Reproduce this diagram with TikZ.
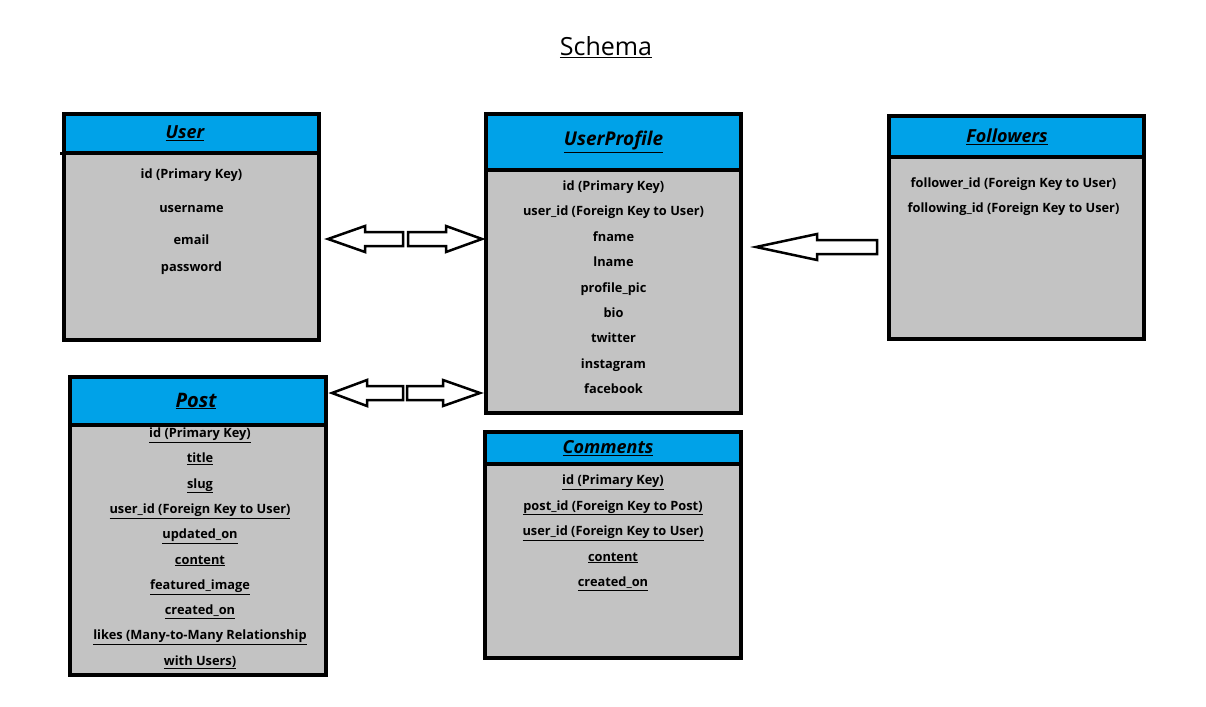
\documentclass[tikz,border=0pt]{standalone}
\usepackage{fontspec}
\setmainfont{Open Sans}
\usetikzlibrary{calc}
\definecolor{hdrblue}{RGB}{0,162,232}
\definecolor{bodygray}{RGB}{195,195,195}
\tikzset{
  tbl/.style={draw, line width=4pt, fill=bodygray, outer sep=0pt, inner sep=0pt},
  hdr/.style={draw, line width=4pt, fill=hdrblue, outer sep=0pt, inner sep=0pt, anchor=north,
    font=\bfseries\itshape\fontsize{18}{21}\selectfont},
  row/.style={font=\bfseries\fontsize{12.8}{15}\selectfont, inner sep=0pt, text height=9pt, text depth=2pt},
  arrowline/.style={draw, line width=2.5pt, line join=miter, fill=white},
}
%% hollow block arrow: tail, tip, head length
\newcommand\blockarrow[3]{%
  \coordinate (hb) at ($(#2)!#3!(#1)$);
  \draw[arrowline] ($(#1)!7pt!90:(#2)$) -- ($(hb)!7pt!90:(#2)$) -- ($(hb)!13pt!90:(#2)$) -- (#2)
    -- ($(hb)!13pt!-90:(#2)$) -- ($(hb)!7pt!-90:(#2)$) -- ($(#1)!7pt!-90:(#2)$) -- cycle;
}
\begin{document}
\begin{tikzpicture}[x=1pt, y=-1pt]
  \useasboundingbox (0,0) rectangle (1206,706);

  \node (title) at (606,47) {\fontsize{25}{30}\selectfont\underline{Schema}};

  %% tables
  \node (user) [tbl, minimum width=255pt, minimum height=226pt] at (191.5,227) {};
  \node (userh) [hdr, minimum width=255pt, minimum height=39pt] at (user.north) {\hspace*{-13pt}\underline{User}};
  \draw[line width=3pt] (userh.south west) -- +(-4,0);

  \node (prof) [tbl, minimum width=255pt, minimum height=299pt] at (613.5,263.5) {};
  \node (profh) [hdr, minimum width=255pt, minimum height=56pt, font=\bfseries\itshape\fontsize{19}{22}\selectfont]
    at (prof.north) {\underline{UserProfile}};

  \node (foll) [tbl, minimum width=255pt, minimum height=223pt] at (1016.5,227.5) {};
  \node (follh) [hdr, minimum width=255pt, minimum height=41pt] at (foll.north) {\hspace*{-19pt}\underline{Followers}};

  \node (post) [tbl, minimum width=256pt, minimum height=298pt] at (198,526) {};
  \node (posth) [hdr, minimum width=256pt, minimum height=48pt, font=\bfseries\itshape\fontsize{20}{23}\selectfont]
    at (post.north) {\hspace*{-4pt}\underline{Post}};

  \node (comm) [tbl, minimum width=256pt, minimum height=226pt] at (613,545) {};
  \node (commh) [hdr, minimum width=256pt, minimum height=32pt] at (comm.north) {\hspace*{-10pt}\underline{Comments}};

  %% rows
  \foreach \y/\t [count=\i] in {175/id (Primary Key), 209/username, 241/email, 268/password}
    \node (user\i) [row] at (user |- 0,\y) {\t};
  \foreach \t [count=\i, evaluate=\i as \y using 187+25.4*(\i-1)] in {id (Primary Key),
      user\_id (Foreign Key to User), fname, lname, profile\_pic, bio, twitter, instagram, facebook}
    \node (prof\i) [row] at (prof |- 0,\y) {\t};
  \foreach \y/\t [count=\i] in {184/follower\_id (Foreign Key to User), 209/following\_id (Foreign Key to User)}
    \node (foll\i) [row] at ($(foll |- 0,\y)+(-3,0)$) {\t};
  \foreach \t [count=\i, evaluate=\i as \y using 434+25.3*(\i-1)] in {id (Primary Key), title, slug,
      user\_id (Foreign Key to User), updated\_on, content, featured\_image, created\_on,
      likes (Many-to-Many Relationship, with Users)}
    \node (post\i) [row] at ($(post |- 0,\y)+(2,0)$) {\underline{\t}};
  \foreach \t [count=\i, evaluate=\i as \y using 481+25.5*(\i-1)] in {id (Primary Key),
      post\_id (Foreign Key to Post), user\_id (Foreign Key to User), content, created\_on}
    \node (comm\i) [row] at (comm |- 0,\y) {\underline{\t}};

  %% arrows
  \coordinate (j1) at (405.5,239);
  \coordinate (j2) at (405,393);
  \coordinate (j3) at (877,247);
  \coordinate (a1s) at ($(j1)+(-2.5,0)$);
  \coordinate (a1e) at ($(user.east |- j1)+(9,0)$);
  \coordinate (a2s) at ($(j1)+(2.5,0)$);
  \coordinate (a2e) at ($(prof.west |- j1)+(-4,0)$);
  \coordinate (a3s) at ($(j2)+(-2,0)$);
  \coordinate (a3e) at ($(post.east |- j2)+(6,0)$);
  \coordinate (a4s) at ($(j2)+(2,0)$);
  \coordinate (a4e) at ($(prof.west |- j2)+(-6,0)$);
  \coordinate (a5e) at ($(prof.east |- j3)+(15,0)$);
  \blockarrow{a1s}{a1e}{37pt} %% User <- UserProfile
  \blockarrow{a2s}{a2e}{36pt} %% User -> UserProfile
  \blockarrow{a3s}{a3e}{35pt} %% Post <- UserProfile
  \blockarrow{a4s}{a4e}{37pt} %% Post -> UserProfile
  \blockarrow{j3}{a5e}{61pt}  %% Followers -> UserProfile
\end{tikzpicture}
\end{document}
